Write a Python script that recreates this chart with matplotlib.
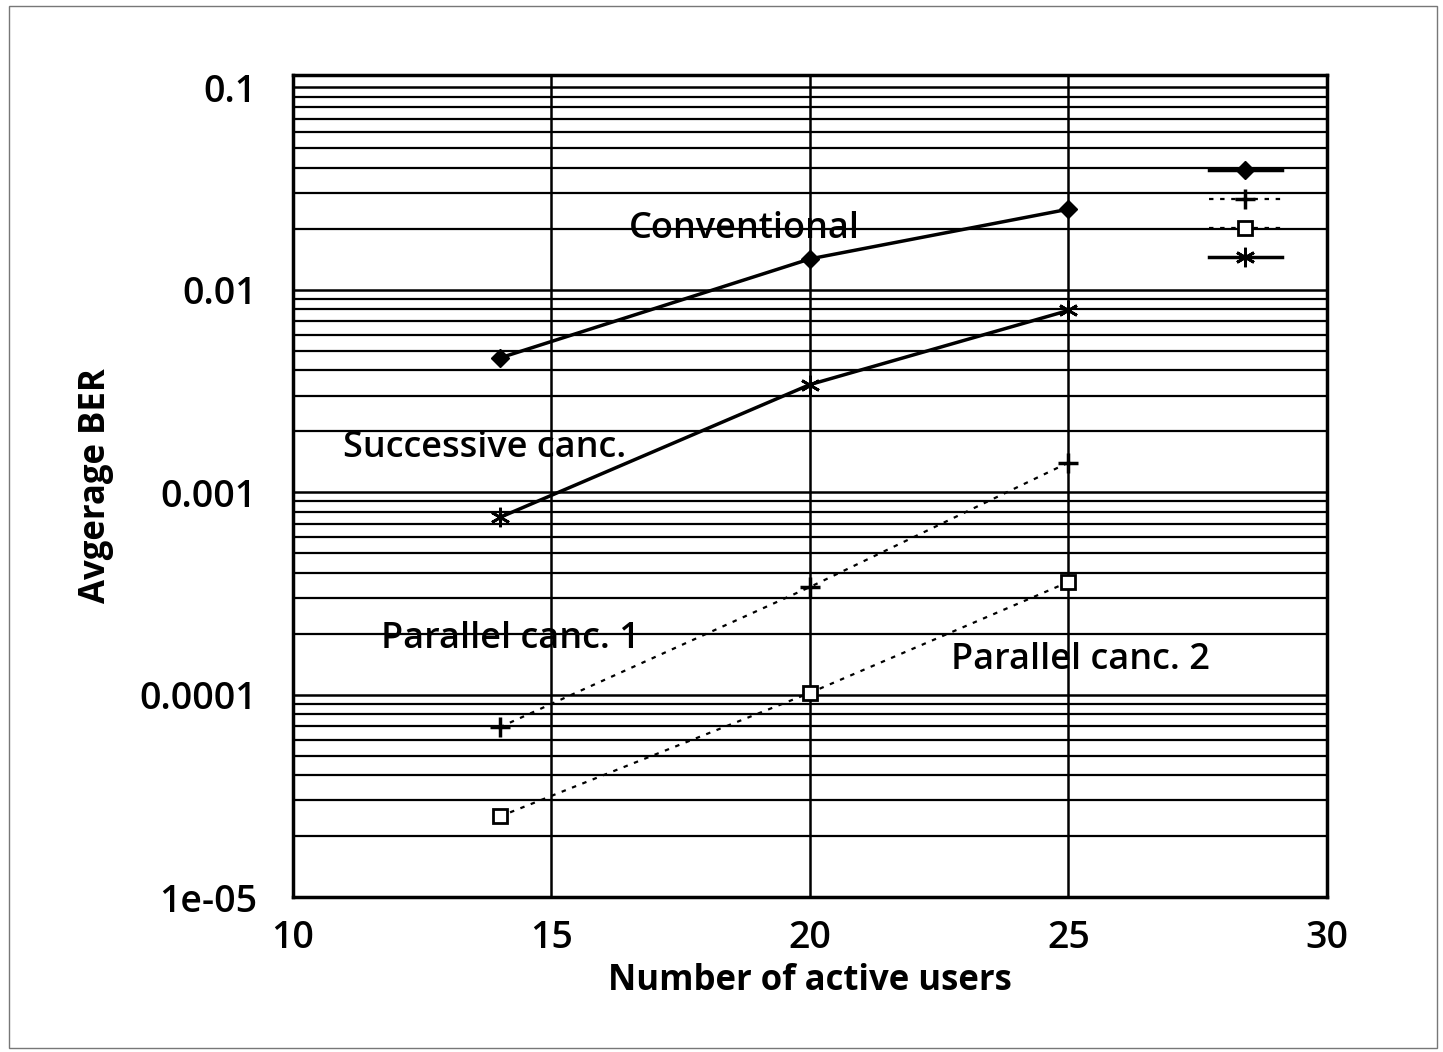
import matplotlib
matplotlib.use("Agg")
import matplotlib.pyplot as plt
from matplotlib.ticker import LogLocator, FixedLocator, NullFormatter
import numpy as np

users = [14, 20, 25]
conventional = [0.0046, 0.0142, 0.025]
successive = [0.00075, 0.0034, 0.0079]
parallel1 = [0.000069, 0.00034, 0.0014]
parallel2 = [0.000025, 0.000102, 0.00036]

x_ticks = [10, 15, 20, 25, 30]
y_ticks = [1e-5, 1e-4, 1e-3, 1e-2, 1e-1]
y_tick_labels = ["1e-05", "0.0001", "0.001", "0.01", "0.1"]

labels = ["Conventional", "Successive canc.", "Parallel canc. 1", "Parallel canc. 2"]

plt.rcParams['font.family'] = ['Open Sans', 'DejaVu Sans']
W = 'semibold'

fig = plt.figure(figsize=(14.43, 10.52), dpi=100)
ax = fig.add_axes([0.203, 0.1473, 0.7166, 0.7814])

ax.set_yscale('log')
ax.set_xlim(10, 30)
ax.set_ylim(1e-5, 0.115)

ax.set_xticks(x_ticks)
ax.set_xticklabels([str(t) for t in x_ticks], fontsize=27, fontweight=W)
ax.yaxis.set_major_locator(FixedLocator(y_ticks))
ax.set_yticklabels(y_tick_labels, fontsize=27, fontweight=W)
ax.yaxis.set_minor_locator(LogLocator(base=10, subs=np.arange(2, 10)))
ax.yaxis.set_minor_formatter(NullFormatter())
ax.tick_params(axis='y', which='both', length=0, pad=26)
ax.tick_params(axis='x', which='both', length=0, pad=16)

ax.grid(True, which='major', axis='y', color='black', lw=1.8)
ax.grid(True, which='minor', axis='y', color='black', lw=1.6)
ax.grid(True, which='major', axis='x', color='black', lw=1.8)
for s in ax.spines.values():
    s.set_linewidth(2.5)

l1, = ax.plot(users, conventional, '-', color='black', lw=2.5, marker='D', ms=9)
l2, = ax.plot(users, parallel1, color='black', lw=1.6, ls=(0, (2, 3)), marker='+', ms=14, mew=2.5)
l3, = ax.plot(users, parallel2, color='black', lw=1.6, ls=(0, (2, 3)), marker='s', ms=10, mfc='white', mew=2)
l4, = ax.plot(users, successive, '-', color='black', lw=2.5, marker=(6, 2, 0), ms=14, mew=2)

leg = ax.legend([l1, l2, l3, l4], ['', '', '', ''], loc='upper right',
                bbox_to_anchor=(0.965, 0.905), frameon=False, handlelength=3.3,
                labelspacing=0.35, fontsize=16, handletextpad=0, borderaxespad=0)

ax.text(18.74, 0.02, labels[0], fontsize=26, fontweight=W, ha='center', va='center')
ax.text(13.71, 0.00165, labels[1], fontsize=26, fontweight=W, ha='center', va='center')
ax.text(14.2, 0.000188, labels[2], fontsize=26, fontweight=W, ha='center', va='center')
ax.text(25.24, 0.000149, labels[3], fontsize=26, fontweight=W, ha='center', va='center')

ax.set_xlabel("Number of active users", fontsize=25, fontweight='bold', labelpad=4)
ax.set_ylabel("Avgerage BER", fontsize=25, fontweight='bold', labelpad=18)

fig.patches.append(plt.Rectangle((0.006, 0.004), 0.99, 0.99, transform=fig.transFigure,
                                 fill=False, edgecolor='#777777', lw=1))

fig.savefig("out.png", dpi=100)
